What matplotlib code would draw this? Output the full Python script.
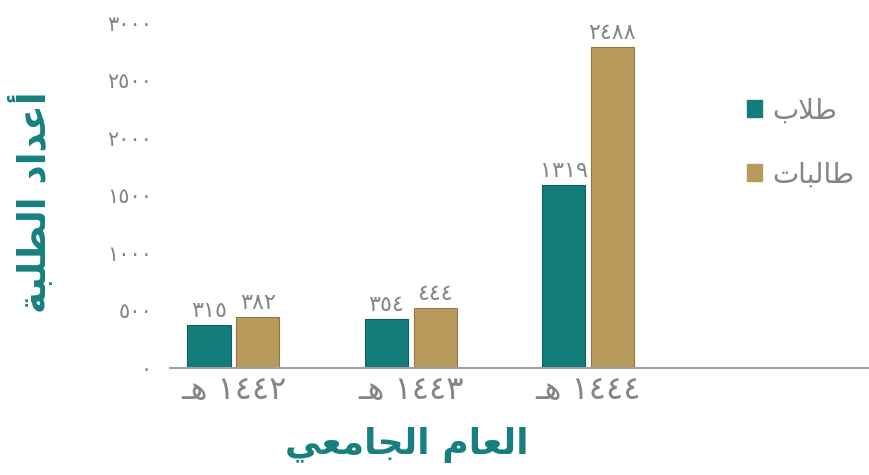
import matplotlib
matplotlib.use("Agg")
import matplotlib.pyplot as plt
from matplotlib.patches import Patch

# --- data -------------------------------------------------------------
years = ["1442", "1443", "1444"]
male_heights = [374, 426, 1591]
female_heights = [443, 522, 2791]
# value labels printed above the bars
male_labels = ["315", "354", "1319"]
female_labels = ["382", "444", "2488"]
y_ticks = [0, 500, 1000, 1500, 2000, 2500, 3000]

series_names = ["طلاب", "طالبات"]
x_title = "العام الجامعي"
y_title = "أعداد الطلبة"
hijri = "هـ"

TEAL = "#147d7b"
TAN = "#b99a5d"
GREY = "#858585"
TITLE = "#17807e"

# --- minimal arabic shaping (matplotlib draws left-to-right, unshaped) --
FORMS = {  # isolated, final, initial, medial
    "ا": ("\uFE8D", "\uFE8E", None, None),
    "أ": ("\uFE83", "\uFE84", None, None),
    "ب": ("\uFE8F", "\uFE90", "\uFE91", "\uFE92"),
    "ت": ("\uFE95", "\uFE96", "\uFE97", "\uFE98"),
    "ة": ("\uFE93", "\uFE94", None, None),
    "ج": ("\uFE9D", "\uFE9E", "\uFE9F", "\uFEA0"),
    "د": ("\uFEA9", "\uFEAA", None, None),
    "ط": ("\uFEC1", "\uFEC2", "\uFEC3", "\uFEC4"),
    "ع": ("\uFEC9", "\uFECA", "\uFECB", "\uFECC"),
    "ل": ("\uFEDD", "\uFEDE", "\uFEDF", "\uFEE0"),
    "م": ("\uFEE1", "\uFEE2", "\uFEE3", "\uFEE4"),
    "ه": ("\uFEE9", "\uFEEA", "\uFEEB", "\uFEEC"),
    "ي": ("\uFEF1", "\uFEF2", "\uFEF3", "\uFEF4"),
    "ـ": ("\u0640",) * 4,
}
LAM_ALEF = {"ا": ("\uFEFB", "\uFEFC"), "أ": ("\uFEF7", "\uFEF8")}


def shape(s):
    toks = []
    i = 0
    while i < len(s):
        if s[i] == "ل" and i + 1 < len(s) and s[i + 1] in LAM_ALEF:
            toks.append(LAM_ALEF[s[i + 1]])
            i += 2
        else:
            toks.append(s[i])
            i += 1

    def dual(t):
        return isinstance(t, str) and t in FORMS and FORMS[t][2] is not None

    def arabic(t):
        return isinstance(t, tuple) or t in FORMS

    out = []
    for k, t in enumerate(toks):
        prev_j = k > 0 and dual(toks[k - 1]) and arabic(t)
        if isinstance(t, tuple):
            out.append(t[1] if prev_j else t[0])
            continue
        if t not in FORMS:
            out.append(t)
            continue
        next_j = dual(t) and k + 1 < len(toks) and arabic(toks[k + 1])
        iso, fin, ini, med = FORMS[t]
        if prev_j and next_j:
            out.append(med)
        elif prev_j:
            out.append(fin)
        elif next_j:
            out.append(ini)
        else:
            out.append(iso)
    return "".join(reversed(out))


AR_DIGITS = str.maketrans("0123456789", "٠١٢٣٤٥٦٧٨٩")


def ar(n):
    return str(n).translate(AR_DIGITS)


plt.rcParams["font.family"] = ["DejaVu Sans"]

fig = plt.figure(figsize=(8.69, 4.75), dpi=100)
ax = fig.add_axes([0.1956, 0.2253, 0.8044, 0.7263])

x = list(range(len(years)))
w, off = 0.243, 0.138
b1 = ax.bar([i - off for i in x], male_heights, w, color=TEAL,
            edgecolor="#0e5f5d", linewidth=0.8)
b2 = ax.bar([i + off for i in x], female_heights, w, color=TAN,
            edgecolor="#8f7645", linewidth=0.8)

for bars, labels in ((b1, male_labels), (b2, female_labels)):
    for r, lab in zip(bars, labels):
        ax.annotate(ar(lab), (r.get_x() + r.get_width() / 2, r.get_height()),
                    xytext=(0, 3), textcoords="offset points",
                    ha="center", va="bottom", fontsize=16, color=GREY)

ax.set_xlim(-0.358, 3.585)
ax.set_ylim(0, 3000)
ax.set_yticks(y_ticks)
ax.set_yticklabels([ar(v) for v in y_ticks], fontsize=15, color=GREY)
ax.set_xticks(x)
ax.set_xticklabels([shape(hijri) + " " + ar(y) for y in years],
                   fontsize=23, color=GREY)
ax.tick_params(axis="y", length=0, pad=13)
ax.tick_params(axis="x", length=0, pad=5)
for s in ("top", "right", "left"):
    ax.spines[s].set_visible(False)
ax.spines["bottom"].set_color("#a0a0a0")
ax.spines["bottom"].set_linewidth(1.5)

fig.text(0.468, 0.063, shape(x_title), ha="center", va="center",
         fontsize=26, fontweight="bold", color=TITLE)
fig.text(0.035, 0.575, shape(y_title), ha="center", va="center",
         rotation=90, fontsize=27, fontweight="bold", color=TITLE)

handles = [Patch(color=TEAL), Patch(color=TAN)]
ax.legend(handles, [shape(n) for n in series_names],
          loc="upper left", bbox_to_anchor=(0.79, 0.86), frameon=False,
          fontsize=20, handlelength=0.55, handleheight=0.55,
          handletextpad=0.35, labelspacing=1.3, labelcolor=GREY)

fig.savefig("out.png", dpi=100)
